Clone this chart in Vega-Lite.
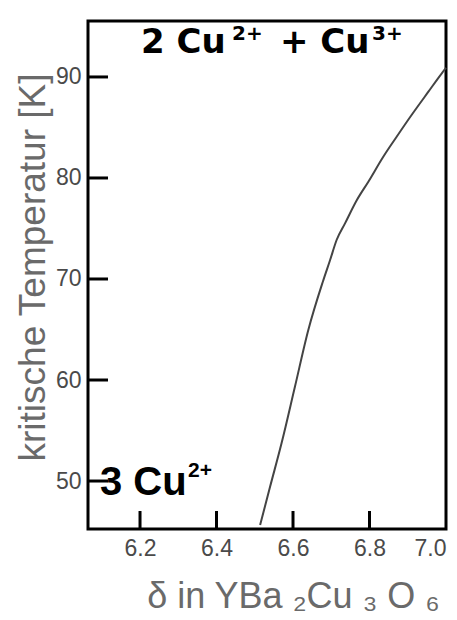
{
  "$schema": "https://vega.github.io/schema/vega-lite/v6.json",
  "width": 358,
  "height": 508,
  "autosize": {"type": "none"},
  "padding": {"left": 88, "top": 21, "right": 11, "bottom": 91},
  "background": "white",
  "config": {
    "view": {"stroke": "black", "strokeWidth": 3},
    "font": "Liberation Sans",
    "axis": {
      "grid": false,
      "domain": false,
      "ticks": false,
      "labelFont": "Liberation Sans",
      "labelFontSize": 23,
      "labelColor": "#4a4a4a",
      "titleFont": "Liberation Sans",
      "titleFontWeight": "normal",
      "titleColor": "#6a6a6a"
    }
  },
  "datasets": {
    "curve": [
      {"delta": 6.514, "tc": 45.64},
      {"delta": 6.540, "tc": 49.43},
      {"delta": 6.570, "tc": 53.73},
      {"delta": 6.605, "tc": 59.33},
      {"delta": 6.640, "tc": 64.95},
      {"delta": 6.678, "tc": 69.73},
      {"delta": 6.697, "tc": 71.88},
      {"delta": 6.714, "tc": 73.86},
      {"delta": 6.736, "tc": 75.51},
      {"delta": 6.767, "tc": 77.82},
      {"delta": 6.797, "tc": 79.63},
      {"delta": 6.836, "tc": 82.10},
      {"delta": 6.871, "tc": 84.08},
      {"delta": 6.910, "tc": 86.23},
      {"delta": 6.954, "tc": 88.54},
      {"delta": 6.989, "tc": 90.36},
      {"delta": 7.000, "tc": 90.89}
    ],
    "yticks": [{"tc": 50}, {"tc": 60}, {"tc": 70}, {"tc": 80}, {"tc": 90}],
    "xticks": [{"delta": 6.2}, {"delta": 6.4}, {"delta": 6.6}, {"delta": 6.8}],
    "labels": [
      {"delta": 6.2026, "tc": 92.37, "text": "2 Cu", "group": "top", "part": "main"},
      {"delta": 6.4405, "tc": 93.66, "text": "2+", "group": "top", "part": "sup"},
      {"delta": 6.5660, "tc": 92.37, "text": "+ Cu", "group": "top", "part": "main"},
      {"delta": 6.8065, "tc": 93.66, "text": "3+", "group": "top", "part": "sup"},
      {"delta": 6.0954, "tc": 48.61, "text": "3 Cu", "group": "bottom", "part": "main"},
      {"delta": 6.3254, "tc": 50.39, "text": "2+", "group": "bottom", "part": "sup"}
    ]
  },
  "layer": [
    {
      "data": {"name": "curve"},
      "mark": {"type": "line", "stroke": "#444444", "strokeWidth": 2, "interpolate": "monotone"},
      "encoding": {
        "x": {
          "field": "delta", "type": "quantitative",
          "scale": {"domain": [6.064, 7.0], "nice": false, "zero": false},
          "axis": {
            "values": [6.2, 6.4, 6.6, 6.8, 7.0],
            "format": ".1f",
            "labelFlush": true,
            "labelPadding": 8,
            "title": "δ  in YBa ₂Cu ₃ O ₆",
            "titleFontSize": 36,
            "titleX": 205,
            "titleY": 78,
            "titleAlign": "center",
            "titleBaseline": "alphabetic"
          }
        },
        "y": {
          "field": "tc", "type": "quantitative",
          "scale": {"domain": [45.25, 95.54], "nice": false, "zero": false},
          "axis": {
            "values": [50, 60, 70, 80, 90],
            "labelFlush": false,
            "labelPadding": 7,
            "title": "kritische Temperatur [K]",
            "titleFontSize": 37,
            "titleX": -55,
            "titleY": 246,
            "titleAngle": 270,
            "titleAlign": "center",
            "titleBaseline": "middle"
          }
        }
      }
    },
    {
      "data": {"name": "yticks"},
      "mark": {"type": "rule", "color": "black", "strokeWidth": 3},
      "encoding": {
        "y": {"field": "tc", "type": "quantitative"},
        "x": {"datum": 6.064},
        "x2": {"datum": 6.1163}
      }
    },
    {
      "data": {"name": "xticks"},
      "mark": {"type": "rule", "color": "black", "strokeWidth": 3},
      "encoding": {
        "x": {"field": "delta", "type": "quantitative"},
        "y": {"datum": 45.25},
        "y2": {"datum": 47.03}
      }
    },
    {
      "data": {"name": "labels"},
      "transform": [{"filter": "datum.group == 'top' && datum.part == 'main'"}],
      "mark": {"type": "text", "font": "DejaVu Sans", "fontWeight": "bold", "fontSize": 34, "color": "black", "align": "left", "baseline": "alphabetic"},
      "encoding": {
        "x": {"field": "delta", "type": "quantitative"},
        "y": {"field": "tc", "type": "quantitative"},
        "text": {"field": "text"}
      }
    },
    {
      "data": {"name": "labels"},
      "transform": [{"filter": "datum.group == 'top' && datum.part == 'sup'"}],
      "mark": {"type": "text", "font": "DejaVu Sans", "fontWeight": "bold", "fontSize": 20, "color": "black", "align": "left", "baseline": "alphabetic"},
      "encoding": {
        "x": {"field": "delta", "type": "quantitative"},
        "y": {"field": "tc", "type": "quantitative"},
        "text": {"field": "text"}
      }
    },
    {
      "data": {"name": "labels"},
      "transform": [{"filter": "datum.group == 'bottom' && datum.part == 'main'"}],
      "mark": {"type": "text", "font": "Liberation Sans", "fontWeight": "bold", "fontSize": 40, "color": "black", "align": "left", "baseline": "alphabetic"},
      "encoding": {
        "x": {"field": "delta", "type": "quantitative"},
        "y": {"field": "tc", "type": "quantitative"},
        "text": {"field": "text"}
      }
    },
    {
      "data": {"name": "labels"},
      "transform": [{"filter": "datum.group == 'bottom' && datum.part == 'sup'"}],
      "mark": {"type": "text", "font": "Liberation Sans", "fontWeight": "bold", "fontSize": 21, "color": "black", "align": "left", "baseline": "alphabetic"},
      "encoding": {
        "x": {"field": "delta", "type": "quantitative"},
        "y": {"field": "tc", "type": "quantitative"},
        "text": {"field": "text"}
      }
    }
  ]
}
